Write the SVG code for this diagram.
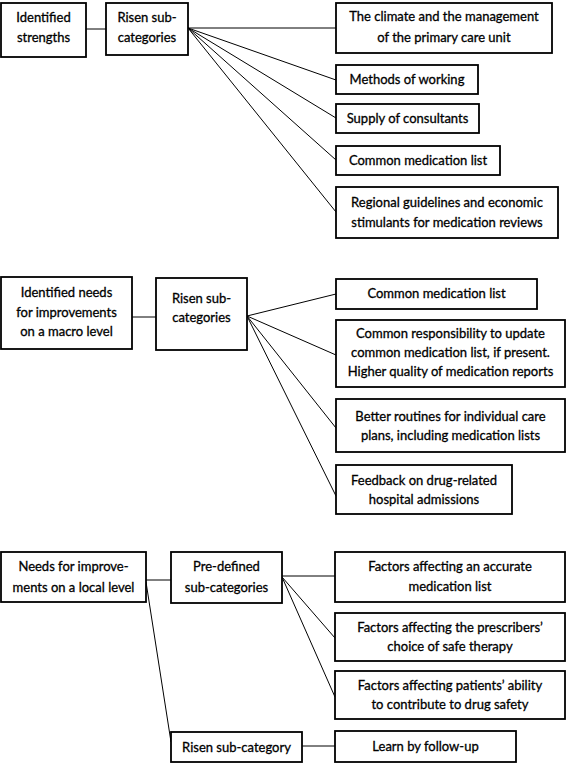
<svg xmlns="http://www.w3.org/2000/svg" width="567" height="763" viewBox="0 0 567 763">
<style>
rect{fill:#fff;stroke:#000;stroke-width:1.8}
text{font-family:Lato,"Open Sans","Liberation Sans",sans-serif;font-size:13px;fill:#000;stroke:#000;stroke-width:0.3;text-anchor:middle}
#connectors line{stroke:#000;stroke-width:1}
</style>
<rect x="0" y="0" width="567" height="763" style="stroke:none"/>
<g id="connectors">
<line x1="86" y1="29" x2="106" y2="29"/>
<line x1="188" y1="28" x2="336" y2="28"/>
<line x1="188" y1="28" x2="336" y2="80"/>
<line x1="188" y1="28" x2="336" y2="118"/>
<line x1="188" y1="28" x2="336" y2="160"/>
<line x1="188" y1="28" x2="336" y2="212"/>
<line x1="132" y1="317" x2="156" y2="317"/>
<line x1="247" y1="316" x2="336" y2="294"/>
<line x1="247" y1="316" x2="336" y2="355"/>
<line x1="247" y1="316" x2="336" y2="428"/>
<line x1="247" y1="316" x2="336" y2="496"/>
<line x1="146" y1="580" x2="171" y2="580"/>
<line x1="282" y1="576" x2="335" y2="576"/>
<line x1="282" y1="577" x2="335" y2="638"/>
<line x1="282" y1="577" x2="335" y2="697"/>
<line x1="146" y1="582" x2="171" y2="742"/>
<line x1="302" y1="746" x2="335" y2="746"/>
</g>
<g id="strengths"><rect x="1" y="3" width="85" height="54"/><text x="43.5" y="21.5">Identified</text><text x="43.5" y="41.5">strengths</text></g>
<g id="risen1"><rect x="106" y="3" width="82" height="52"/><text x="147" y="21.5">Risen sub-</text><text x="147" y="41.5">categories</text></g>
<g id="climate"><rect x="336" y="3" width="216" height="50"/><text x="444" y="20.5">The climate and the management</text><text x="444" y="41.5">of the primary care unit</text></g>
<g id="methods"><rect x="336" y="65" width="142" height="29"/><text x="407" y="84">Methods of working</text></g>
<g id="supply"><rect x="336" y="104" width="143" height="29"/><text x="407.5" y="123">Supply of consultants</text></g>
<g id="cml1"><rect x="336" y="146" width="164" height="29"/><text x="418" y="165">Common medication list</text></g>
<g id="regional"><rect x="336" y="187" width="222" height="51"/><text x="447" y="206.5">Regional guidelines and economic</text><text x="447" y="226.5">stimulants for medication reviews</text></g>
<g id="macro"><rect x="1" y="277" width="131" height="72"/><text x="66.5" y="296.5">Identified needs</text><text x="66.5" y="316.5">for improvements</text><text x="66.5" y="335.5">on a macro level</text></g>
<g id="risen2"><rect x="156" y="278" width="91" height="72"/><text x="201.5" y="302.5">Risen sub-</text><text x="201.5" y="321.5">categories</text></g>
<g id="cml2"><rect x="336" y="279" width="201" height="30"/><text x="436.5" y="298">Common medication list</text></g>
<g id="responsibility"><rect x="336" y="320" width="229" height="67"/><text x="450.5" y="338">Common responsibility to update</text><text x="450.5" y="357">common medication list, if present.</text><text x="450.5" y="376">Higher quality of medication reports</text></g>
<g id="routines"><rect x="336" y="399" width="229" height="53"/><text x="450.5" y="421">Better routines for individual care</text><text x="450.5" y="440">plans, including medication lists</text></g>
<g id="feedback"><rect x="336" y="465" width="176" height="49"/><text x="424" y="484.5">Feedback on drug-related</text><text x="424" y="504">hospital admissions</text></g>
<g id="local"><rect x="1" y="552" width="145" height="50"/><text x="73.5" y="570.5">Needs for improve-</text><text x="73.5" y="591.5">ments on a local level</text></g>
<g id="predefined"><rect x="171" y="552" width="111" height="51"/><text x="226.5" y="570.5">Pre-defined</text><text x="226.5" y="591.5">sub-categories</text></g>
<g id="risen3"><rect x="171" y="732" width="131" height="30"/><text x="236.5" y="751.5">Risen sub-category</text></g>
<g id="accurate"><rect x="335" y="552" width="230" height="50"/><text x="450" y="571">Factors affecting an accurate</text><text x="450" y="591">medication list</text></g>
<g id="prescribers"><rect x="335" y="613" width="230" height="48"/><text x="450" y="631.5">Factors affecting the prescribers’</text><text x="450" y="650.5">choice of safe therapy</text></g>
<g id="patients"><rect x="335" y="671" width="230" height="48"/><text x="450" y="689.5">Factors affecting patients’ ability</text><text x="450" y="708.5">to contribute to drug safety</text></g>
<g id="learn"><rect x="335" y="731" width="181" height="31"/><text x="425.5" y="751">Learn by follow-up</text></g>
</svg>
